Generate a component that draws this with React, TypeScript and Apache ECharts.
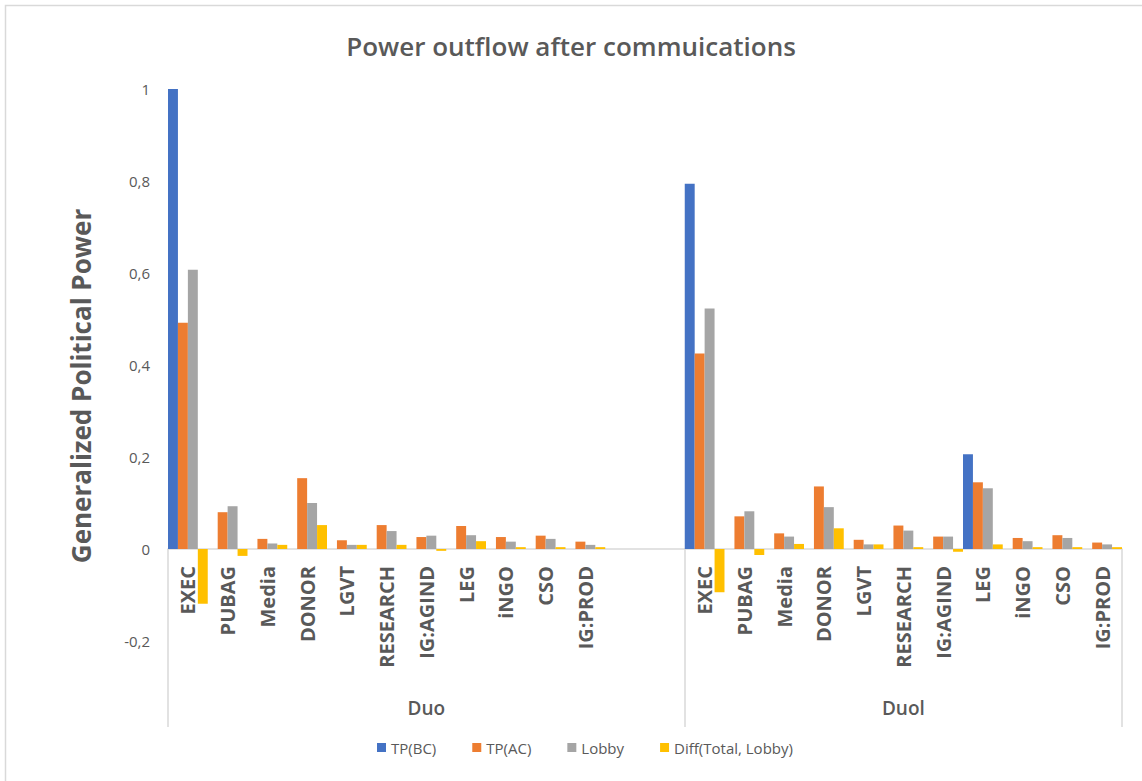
import React, { useEffect, useRef } from "react";
import * as echarts from "echarts";

const groupCategories = ["EXEC", "PUBAG", "Media", "DONOR", "LGVT", "RESEARCH", "IG:AGIND", "LEG", "iNGO", "CSO", "IG:PROD"];
const duoBlankSlots = ["", ""];
const groupNames = ["Duo", "Duol"];
const seriesNames = ["TP(BC)", "TP(AC)", "Lobby", "Diff(Total, Lobby)"];
const seriesColors = ["#4472C4", "#ED7D31", "#A5A5A5", "#FFC000"];

const tpBcDuo = [1.0, 0, 0, 0, 0, 0, 0, 0, 0, 0, 0];
const tpBcDuol = [0.794, 0, 0, 0, 0, 0, 0, 0.206, 0, 0, 0];
const tpAcDuo = [0.492, 0.080, 0.022, 0.154, 0.019, 0.052, 0.026, 0.050, 0.026, 0.029, 0.016];
const tpAcDuol = [0.425, 0.071, 0.034, 0.136, 0.020, 0.051, 0.027, 0.145, 0.024, 0.030, 0.014];
const lobbyDuo = [0.607, 0.093, 0.012, 0.100, 0.009, 0.039, 0.029, 0.030, 0.016, 0.022, 0.009];
const lobbyDuol = [0.523, 0.082, 0.027, 0.091, 0.010, 0.040, 0.027, 0.132, 0.017, 0.024, 0.010];
const diffDuo = [-0.119, -0.015, 0.009, 0.052, 0.009, 0.009, -0.004, 0.017, 0.004, 0.004, 0.004];
const diffDuol = [-0.094, -0.013, 0.011, 0.045, 0.010, 0.004, -0.006, 0.010, 0.004, 0.004, 0.004];

const yTicks = { min: -0.2, max: 1, interval: 0.2 };

const FONT = "'Open Sans', 'Noto Sans', sans-serif";
const TEXT = "#595959";
const LINE = "#D9D9D9";

export default function App() {
  const ref = useRef<HTMLDivElement>(null);
  useEffect(() => {
    if (!ref.current) return;
    const chart = echarts.init(ref.current, undefined, { renderer: "svg" });
    const categories = [...groupCategories, ...duoBlankSlots, ...groupCategories];
    const duoLen = groupCategories.length + duoBlankSlots.length;
    const groupCenters = [(duoLen - 1) / 2, duoLen + (groupCategories.length - 1) / 2];
    const blanks = duoBlankSlots.map(() => null);
    const join = (a: number[], b: number[]) => [...a, ...blanks, ...b];
    const values = [join(tpBcDuo, tpBcDuol), join(tpAcDuo, tpAcDuol), join(lobbyDuo, lobbyDuol), join(diffDuo, diffDuol)];

    const buildOption = (labelMargin: number) => ({
      animation: false,
      textStyle: { fontFamily: FONT },
      title: {
        text: "Power outflow after commuications",
        left: "center",
        top: 28,
        textStyle: { fontFamily: FONT, fontSize: 26, fontWeight: 600, color: TEXT },
      },
      legend: {
        data: seriesNames,
        left: 372,
        top: 735,
        itemWidth: 9,
        itemHeight: 9,
        itemGap: 36,
        icon: "rect",
        textStyle: { fontFamily: FONT, fontSize: 15, color: TEXT },
      },
      grid: { left: 168, right: 20, top: 89, bottom: 140, outerBoundsMode: "none", containLabel: false },
      xAxis: [
        {
          type: "category",
          data: categories,
          position: "bottom",
          axisLine: { show: true, onZero: true, onZeroAxisIndex: 0, lineStyle: { color: LINE, width: 1.5 } },
          axisTick: { show: false },
          axisLabel: {
            interval: 0,
            rotate: 90,
            margin: labelMargin,
            fontFamily: FONT,
            fontSize: 20,
            fontWeight: "bold",
            color: TEXT,
          },
          splitLine: { show: false },
        },
        {
          type: "category",
          data: categories,
          position: "bottom",
          axisLine: { show: false, onZero: true, onZeroAxisIndex: 0 },
          axisTick: {
            show: true,
            length: 178,
            interval: (i: number) => i === 0 || i === duoLen,
            lineStyle: { color: LINE, width: 1.5 },
          },
          axisLabel: { show: false },
          splitLine: { show: false },
        },
      ],
      yAxis: {
        type: "value",
        min: yTicks.min,
        max: yTicks.max,
        interval: yTicks.interval,
        name: "Generalized Political Power",
        nameLocation: "middle",
        nameRotate: 90,
        nameGap: 74,
        nameTextStyle: { fontFamily: FONT, fontSize: 26, fontWeight: "bold", color: TEXT, padding: [0, 42, 0, 0] },
        axisLine: { show: false },
        axisTick: { show: false },
        splitLine: { show: false },
        axisLabel: {
          margin: 18,
          fontFamily: FONT,
          fontSize: 15,
          color: TEXT,
          formatter: (v: number) => String(Math.round(v * 10) / 10).replace(".", ","),
        },
      },
      series: seriesNames.map((name, k) => ({
        name,
        type: "bar",
        xAxisIndex: 0,
        data: values[k],
        itemStyle: { color: seriesColors[k] },
        barGap: "0%",
        barCategoryGap: "0%",
      })),
    });

    chart.setOption(buildOption(17));
    const zeroY = chart.convertToPixel({ yAxisIndex: 0 }, 0) as number;
    const bottomY = chart.convertToPixel({ yAxisIndex: 0 }, yTicks.min) as number;
    // category labels are laid out from the grid's bottom edge; bring them up to the zero line
    chart.setOption(buildOption(17 - (bottomY - zeroY)));

    const groupTexts = groupNames.map((name, g) => {
      const left = chart.convertToPixel({ xAxisIndex: 0 }, Math.floor(groupCenters[g])) as number;
      const right = chart.convertToPixel({ xAxisIndex: 0 }, Math.ceil(groupCenters[g])) as number;
      return {
        type: "text",
        x: (left + right) / 2,
        y: zeroY + 159,
        style: {
          text: name,
          fill: TEXT,
          font: `600 19px ${FONT}`,
          textAlign: "center",
          textVerticalAlign: "middle",
        },
        silent: true,
      };
    });
    chart.setOption({
      graphic: [
        {
          type: "rect",
          shape: { x: 5.5, y: 5.5, width: 1150, height: 800 },
          style: { fill: "none", stroke: LINE, lineWidth: 1.5 },
          silent: true,
        },
        ...groupTexts,
      ],
    });
    return () => chart.dispose();
  }, []);
  return <div ref={ref} style={{ position: "absolute", left: 0, top: 0, width: 1142, height: 781 }} />;
}
